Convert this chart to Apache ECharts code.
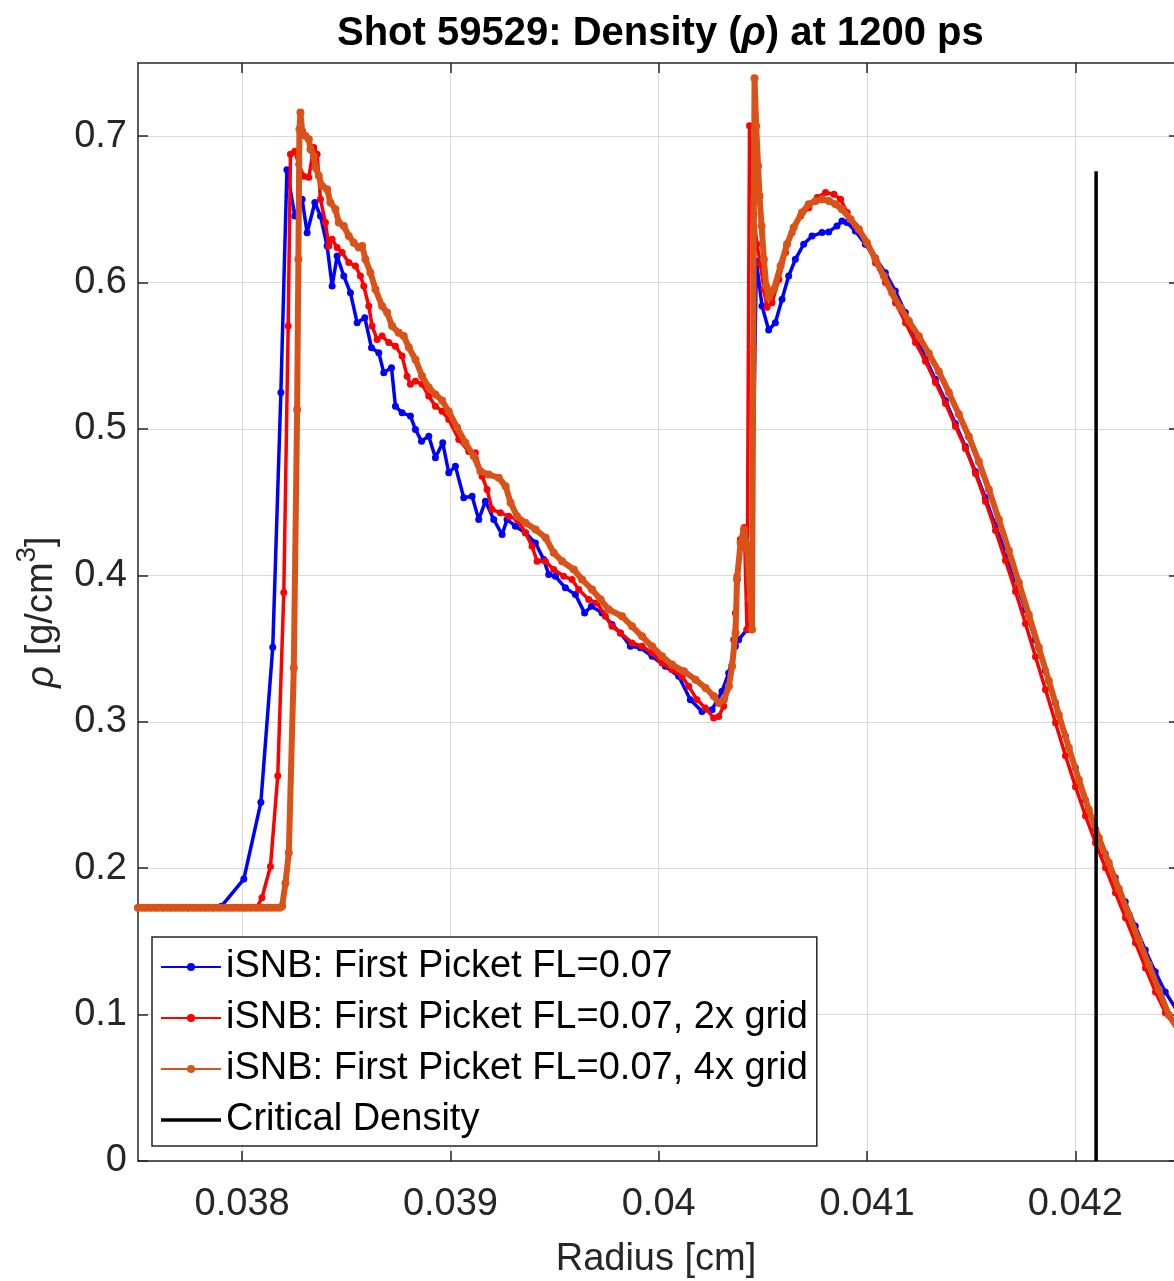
<!DOCTYPE html>
<html><head><meta charset="utf-8">
<script src="https://cdn.jsdelivr.net/npm/echarts@6/dist/echarts.min.js"></script>
<style>html,body{margin:0;padding:0;background:#fff;}#c{width:1174px;height:1281px;}</style>
</head><body><div id="c"></div>
<script>
const FONT = 'Liberation Sans';
const xTicks = [0.038, 0.039, 0.04, 0.041, 0.042];
const yTicks = [0, 0.1, 0.2, 0.3, 0.4, 0.5, 0.6, 0.7];
const seriesNames = [
  'iSNB: First Picket FL=0.07',
  'iSNB: First Picket FL=0.07, 2x grid',
  'iSNB: First Picket FL=0.07, 4x grid',
  'Critical Density'
];

const blueData = [
[0.0375,0.173],[0.03754,0.173],[0.03758,0.173],[0.03762,0.173],[0.03766,0.173],[0.0377,0.173],[0.03774,0.173],[0.03778,0.173],[0.03782,0.173],[0.03786,0.173],[0.0379,0.174],
[0.038008,0.1926],[0.03809,0.245],[0.038147,0.351],[0.038186,0.525],[0.038215,0.677],
[0.038253,0.6455],[0.038288,0.657],[0.038312,0.634],[0.038349,0.6547],[0.038376,0.6455],[0.038408,0.625],[0.038432,0.5977],[0.038456,0.6182],[0.038488,0.6045],[0.03852,0.593],[0.038552,0.5726],[0.038589,0.576],[0.038621,0.5555],[0.038656,0.5521],[0.03868,0.5385],[0.038717,0.5419],[0.038736,0.5156],[0.038768,0.5111],[0.038808,0.5088],[0.038832,0.4997],[0.038861,0.4917],[0.038896,0.4951],[0.038928,0.4804],[0.038963,0.4906],[0.038992,0.4701],[0.039024,0.4746],[0.039064,0.453],[0.039104,0.4541],[0.039136,0.4382],[0.039168,0.4507],[0.039208,0.4382],[0.039248,0.4279],[0.039272,0.4382],[0.039312,0.4336],[0.03936,0.4291],[0.039408,0.4222],[0.039448,0.4108],[0.039472,0.4006],[0.039504,0.3994],[0.039552,0.3915],[0.0396,0.3869],[0.039644,0.3744],[0.039677,0.3789],[0.039728,0.3744],[0.039776,0.3664],[0.039816,0.3607],[0.039864,0.3516],[0.039912,0.3505],[0.039968,0.3447],[0.040032,0.3379],[0.040096,0.3311],[0.040152,0.3151],[0.040208,0.3071],[0.040256,0.3083],[0.040304,0.3208],[0.040336,0.3334],[0.040368,0.3516],[0.040384,0.3561],[0.040424,0.363],[0.040441,0.3664],
[0.040469,0.6146],[0.040496,0.584],[0.040528,0.5676],[0.04056,0.5726],[0.040592,0.5886],[0.040624,0.6045],[0.040656,0.6159],[0.040696,0.6262],[0.040736,0.6318],[0.040784,0.6342],[0.040816,0.6346],[0.040856,0.6387],[0.04088,0.6421],[0.040904,0.641],[0.040944,0.6353],[0.040992,0.6262],[0.04104,0.617],[0.041088,0.6068],[0.041136,0.5942],[0.041184,0.5795],[0.041232,0.5635],
[0.04128,0.5489],[0.041328,0.5339],[0.041376,0.5195],[0.041424,0.5038],[0.041472,0.4881],[0.04152,0.471],[0.041568,0.4532],[0.041616,0.4341],[0.041664,0.4163],[0.041712,0.3972],[0.04176,0.3767],[0.041808,0.3561],[0.041856,0.335],[0.041904,0.3131],[0.041952,0.2905],[0.042,0.2686],[0.042048,0.2468],[0.042096,0.2269],[0.042144,0.2099],[0.042192,0.1935],[0.04224,0.177],[0.042288,0.1606],[0.042336,0.1442],[0.042384,0.1292],[0.042432,0.1155],[0.04248,0.1046],[0.042528,0.095]
];

const redData = [
[0.0375,0.173],[0.03753,0.173],[0.03756,0.173],[0.03759,0.173],[0.03762,0.173],[0.03765,0.173],[0.03768,0.173],[0.03771,0.173],[0.03774,0.173],[0.03777,0.173],[0.0378,0.173],[0.03783,0.173],[0.03786,0.173],[0.03789,0.173],[0.03792,0.173],[0.03795,0.173],[0.03798,0.173],[0.03801,0.173],[0.03804,0.173],[0.03807,0.173],
[0.038095,0.1798],[0.038136,0.2012],[0.038171,0.2632],[0.0382,0.3883],[0.038221,0.5703],[0.038232,0.6877],[0.038253,0.6897],[0.038272,0.6808],[0.038296,0.6726],[0.03832,0.672],[0.038344,0.6923],[0.03836,0.6877],[0.038376,0.6569],[0.0384,0.641],[0.038416,0.625],[0.038432,0.6296],[0.038456,0.6239],[0.03848,0.6205],[0.038512,0.6137],[0.038544,0.6113],[0.038568,0.6045],[0.038584,0.5977],[0.038608,0.584],[0.038624,0.5703],[0.038648,0.5612],[0.038672,0.5635],[0.038704,0.559],[0.038736,0.5566],[0.038768,0.5498],[0.038792,0.5361],[0.038808,0.5305],[0.038832,0.5327],[0.038864,0.5305],[0.038896,0.5225],[0.038928,0.5156],[0.03896,0.5122],[0.038992,0.5065],[0.03904,0.4929],[0.039088,0.4847],[0.03912,0.4838],[0.039152,0.4678],[0.039176,0.4587],[0.0392,0.445],[0.03924,0.4428],[0.03928,0.4404],[0.03932,0.4382],[0.03936,0.4291],[0.039392,0.4199],[0.039416,0.4097],[0.039456,0.4097],[0.039496,0.404],[0.039544,0.3994],[0.039584,0.3972],[0.039616,0.3903],[0.039664,0.3835],[0.039704,0.3812],[0.039744,0.3721],[0.039776,0.3652],[0.039816,0.3607],[0.039872,0.3539],[0.03992,0.3516],[0.039968,0.3471],[0.040016,0.3402],[0.040064,0.3356],[0.040112,0.3311],[0.040144,0.3242],[0.040184,0.3151],[0.040224,0.3095],[0.040264,0.3026],[0.040288,0.3037],[0.040312,0.3106],[0.040336,0.3242],[0.040352,0.3379],[0.04036,0.3561],[0.040368,0.3744],[0.040376,0.3994],[0.040392,0.4245],[0.040411,0.4327],[0.040424,0.363],
[0.040436,0.7071],[0.040445,0.6774],[0.040457,0.6467],[0.040471,0.6262],[0.040489,0.6125],[0.040505,0.5954],[0.04052,0.5831],[0.040544,0.5863],[0.040577,0.6022],[0.040609,0.6205],[0.04064,0.6342],[0.040681,0.6455],[0.040721,0.6512],[0.040761,0.6581],[0.040801,0.6615],[0.040841,0.6603],[0.040873,0.6569],[0.040905,0.6478],[0.040945,0.6387],[0.040993,0.6284],[0.041041,0.6136],[0.041089,0.6],[0.041137,0.5863],[0.041185,0.5726],[0.041233,0.559],
[0.041281,0.5462],[0.041329,0.5318],[0.041377,0.5175],[0.041425,0.5017],[0.041473,0.4867],[0.041521,0.4696],[0.041569,0.4505],[0.041617,0.4307],[0.041665,0.4101],[0.041713,0.389],[0.041761,0.3672],[0.041809,0.3445],[0.041857,0.322],[0.041905,0.2994],[0.041953,0.2768],[0.042001,0.2557],[0.042049,0.2358],[0.042097,0.2174],[0.042145,0.2003],[0.042193,0.1832],[0.042241,0.1661],[0.042289,0.149],[0.042337,0.1319],[0.042385,0.1155],[0.042433,0.1012],[0.042481,0.0916],[0.042529,0.084]
];

const orangeData = [
[0.0375,0.173],[0.03752,0.173],[0.03754,0.173],[0.03756,0.173],[0.03758,0.173],[0.0376,0.173],[0.03762,0.173],[0.03764,0.173],[0.03766,0.173],[0.03768,0.173],[0.0377,0.173],[0.03772,0.173],[0.03774,0.173],[0.03776,0.173],[0.03778,0.173],[0.0378,0.173],[0.03782,0.173],[0.03784,0.173],[0.03786,0.173],[0.03788,0.173],[0.0379,0.173],[0.03792,0.173],[0.03794,0.173],[0.03796,0.173],[0.03798,0.173],[0.038,0.173],[0.03802,0.173],[0.03804,0.173],[0.03806,0.173],[0.03808,0.173],[0.0381,0.173],[0.03812,0.173],[0.03814,0.173],[0.03816,0.173],[0.03818,0.173],
[0.038192,0.174],[0.038208,0.1898],[0.038224,0.2105],[0.038248,0.337],[0.038264,0.5134],[0.03827,0.6159],[0.038275,0.7048],[0.03828,0.7162],[0.038288,0.7036],[0.038304,0.7002],[0.03832,0.6979],[0.038328,0.6911],[0.038344,0.6865],[0.038352,0.6788],[0.038368,0.6729],[0.038384,0.666],[0.038408,0.6638],[0.038424,0.6547],[0.038448,0.6501],[0.038464,0.641],[0.038488,0.6387],[0.038512,0.6318],[0.038536,0.6273],[0.03856,0.6239],[0.038576,0.625],[0.038592,0.6159],[0.038616,0.6068],[0.03864,0.5954],[0.038672,0.584],[0.038696,0.5795],[0.03872,0.5703],[0.038752,0.5658],[0.038776,0.5635],[0.0388,0.5558],[0.038832,0.5475],[0.038864,0.5361],[0.038896,0.5284],[0.038928,0.5236],[0.03896,0.5195],[0.038992,0.512],[0.039032,0.5011],[0.039072,0.4906],[0.039112,0.4814],[0.039144,0.4712],[0.039184,0.4689],[0.039232,0.4667],[0.039265,0.4609],[0.039289,0.4496],[0.03932,0.4404],[0.03936,0.4359],[0.039409,0.4313],[0.039457,0.4257],[0.039496,0.4154],[0.039536,0.4097],[0.039592,0.404],[0.039632,0.3972],[0.03968,0.3903],[0.039721,0.3835],[0.03976,0.3767],[0.039824,0.3721],[0.039872,0.3652],[0.03992,0.3584],[0.039968,0.3516],[0.040016,0.3447],[0.040064,0.3391],[0.040121,0.3345],[0.040177,0.3288],[0.040225,0.3231],[0.040265,0.3174],[0.040289,0.3129],[0.040313,0.3151],[0.040337,0.3242],[0.040352,0.3379],[0.040369,0.3607],[0.040376,0.3972],[0.040393,0.4222],[0.040409,0.4313],[0.040424,0.4199],[0.040441,0.3835],[0.040448,0.363],
[0.040454,0.5544],[0.04046,0.7396],[0.040468,0.707],[0.040477,0.6797],[0.040484,0.6592],[0.040494,0.6387],[0.040505,0.6159],[0.040516,0.5977],[0.040529,0.5897],[0.040553,0.5954],[0.040585,0.6113],[0.040616,0.6262],[0.040648,0.6376],[0.040688,0.6478],[0.04072,0.6535],[0.040753,0.6558],[0.040784,0.6569],[0.040817,0.6558],[0.040849,0.6535],[0.04088,0.6501],[0.040921,0.6433],[0.040961,0.6364],[0.041,0.6273],[0.041041,0.6159],[0.041081,0.6045],[0.041121,0.5931],[0.041161,0.5829],[0.041201,0.5737],[0.041249,0.5633],
[0.041297,0.5516],[0.041345,0.5393],[0.041393,0.525],[0.041441,0.51],[0.041489,0.4949],[0.041537,0.4778],[0.041585,0.4587],[0.041633,0.4382],[0.041681,0.417],[0.041729,0.3951],[0.041777,0.3732],[0.041825,0.3507],[0.041873,0.3281],[0.041921,0.3049],[0.041969,0.2823],[0.042017,0.2604],[0.042065,0.2399],[0.042113,0.2208],[0.042161,0.2037],[0.042209,0.1859],[0.042257,0.1682],[0.042305,0.1511],[0.042353,0.134],[0.042401,0.1169],[0.042449,0.0998],[0.042502,0.0882]
];

const criticalData = [[0.0421, 0], [0.0421, 0.676]];

const AX = '#262626';
const GRIDC = '#d9d9d9';
const X_MIN = 0.0375, X_MAX = 0.042474; // right border of the original box lies just outside the picture

function xAxisDef(pos, main) {
  return {
    type: 'value', min: X_MIN, max: X_MAX, position: pos,
    axisLine: {show: true, onZero: false, lineStyle: {color: AX, width: 1.5}},
    axisTick: {show: true, inside: true, length: 10, customValues: xTicks, lineStyle: {color: AX, width: 1.5}},
    axisLabel: {show: main, customValues: xTicks, color: AX, fontSize: 38, fontFamily: FONT, margin: 25},
    splitLine: {show: main, lineStyle: {color: GRIDC, width: 1}},
    name: main ? 'Radius [cm]' : '', nameLocation: 'middle', nameGap: 80,
    nameTextStyle: {fontSize: 38, color: AX, fontFamily: FONT}
  };
}
function yAxisDef(pos, main) {
  return {
    type: 'value', min: 0, max: 0.75, position: pos,
    axisLine: {show: main, onZero: false, lineStyle: {color: AX, width: 1.5}},
    axisTick: {show: true, inside: true, length: main ? 10 : 5, customValues: yTicks, lineStyle: {color: AX, width: 1.5}},
    axisLabel: {show: main, customValues: yTicks, color: AX, fontSize: 38, fontFamily: FONT, margin: 11},
    splitLine: {show: main, lineStyle: {color: GRIDC, width: 1}},
    name: main ? '{i|ρ} [g/cm{s|3}]' : '', nameLocation: 'middle', nameGap: 67,
    nameTextStyle: {fontSize: 38, color: AX, fontFamily: FONT,
      rich: {i: {fontSize: 38, fontStyle: 'italic', color: AX, fontFamily: FONT},
             s: {fontSize: 28, color: AX, fontFamily: FONT, padding: [0, 0, 30, 0]}}}
  };
}

function lineSeries(name, data, color, lw, ss, z) {
  return {
    name: name, type: 'line', data: data, z: z,
    showSymbol: true, showAllSymbol: true, symbol: 'circle', symbolSize: ss,
    lineStyle: {color: color, width: lw}, itemStyle: {color: color},
    emphasis: {disabled: true}, animation: false
  };
}

const chart = echarts.init(document.getElementById('c'), null, {renderer: 'canvas'});
chart.setOption({
  backgroundColor: '#ffffff',
  animation: false,
  textStyle: {fontFamily: FONT},
  title: {
    text: '{b|Shot 59529: Density (}{i|ρ}{b|) at 1200 ps}',
    left: 337, top: 14, padding: 0,
    textStyle: {rich: {
      b: {fontSize: 40, fontWeight: 'bold', color: '#000', fontFamily: FONT},
      i: {fontSize: 40, fontStyle: 'italic', color: '#000', fontFamily: FONT}
    }}
  },
  grid: {left: 138, top: 63, right: 0, height: 1098, containLabel: false, outerBoundsMode: 'none'},
  xAxis: [xAxisDef('bottom', true), xAxisDef('top', false)],
  yAxis: [yAxisDef('left', true), yAxisDef('right', false)],
  legend: {
    orient: 'vertical', left: 152, top: 937,
    itemWidth: 60, itemHeight: 10, itemGap: 7,
    padding: [8, 9, 4, 8],
    backgroundColor: '#ffffff', borderColor: AX, borderWidth: 1.5, borderRadius: 0,
    textStyle: {fontSize: 38, color: '#000', fontFamily: FONT, lineHeight: 44},
    data: [
      {name: seriesNames[0]},
      {name: seriesNames[1]},
      {name: seriesNames[2]},
      {name: seriesNames[3], icon: 'path://M0 0H60V3.5H0Z'}
    ]
  },
  series: [
    lineSeries(seriesNames[0], blueData, '#0000ff', 3.5, 7, 2),
    lineSeries(seriesNames[1], redData, '#ff0000', 3.5, 7, 3),
    lineSeries(seriesNames[2], orangeData, '#d95319', 6, 8, 4),
    {name: seriesNames[3], type: 'line', data: criticalData, z: 5, symbol: 'none',
     lineStyle: {color: '#000', width: 3.5}, itemStyle: {color: '#000'}, emphasis: {disabled: true}, animation: false}
  ]
});
</script></body></html>
